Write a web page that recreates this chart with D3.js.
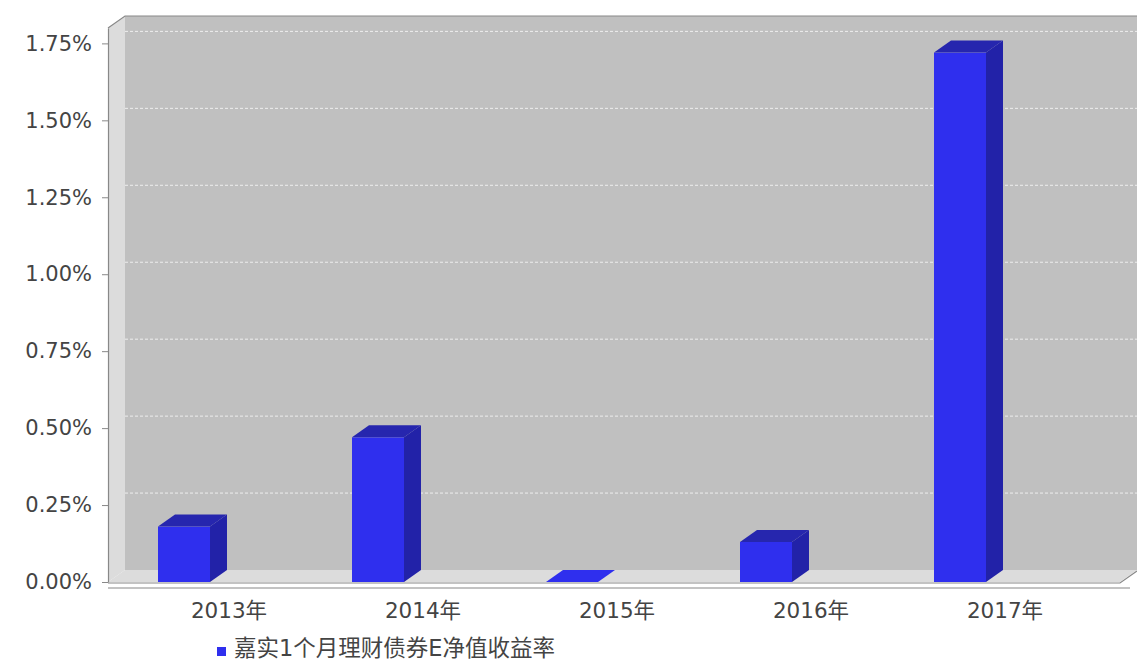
<!DOCTYPE html>
<html>
<head>
<meta charset="utf-8">
<script src="https://cdn.jsdelivr.net/npm/d3@7"></script>
<style>
  html, body { margin: 0; padding: 0; background: #fff; }
  text { font-family: "DejaVu Sans", "Noto Sans CJK SC", sans-serif; }
</style>
</head>
<body>
<div id="chart"></div>
<script>
// 图表数据
const categories = ["2013年", "2014年", "2015年", "2016年", "2017年"];
const returns = [0.18, 0.47, 0.00, 0.13, 1.72];
const yTicks = [0, 0.25, 0.5, 0.75, 1.0, 1.25, 1.5, 1.75];
const seriesName = "嘉实1个月理财债券E净值收益率";

const width = 1137, height = 662;
const dx = 17, dy = 12;   // 3D 深度偏移

const svg = d3.select("#chart").append("svg")
    .attr("width", width)
    .attr("height", height);

const y = d3.scaleLinear().domain([0, 1.8]).range([582, 28]);
const x = d3.scaleBand().domain(categories).range([132, 1102]);
const left = 108, right = 1120;
const y0 = y(0);

// 背景墙
svg.append("rect")
    .attr("x", left + dx).attr("y", y.range()[1] - dy)
    .attr("width", width - left - dx).attr("height", y0 - y.range()[1])
    .attr("fill", "#c0c0c0");

// 左侧墙
svg.append("polygon")
    .attr("points", [[left, y.range()[1]], [left + dx, y.range()[1] - dy], [left + dx, y0 - dy], [left, y0]].join(" "))
    .attr("fill", "#dcdcdc");

// 网格线
svg.selectAll(".grid")
    .data(yTicks.filter(d => d > 0))
    .enter().append("line")
    .attr("x1", left + dx).attr("x2", width)
    .attr("y1", d => y(d) - dy).attr("y2", d => y(d) - dy)
    .attr("stroke", "#eeeeee")
    .attr("stroke-width", 1)
    .attr("stroke-dasharray", "3,2");

// 地板
svg.append("polygon")
    .attr("points", [[left, y0], [left + dx, y0 - dy], [right + dx, y0 - dy], [right, y0]].join(" "))
    .attr("fill", "#dcdcdc");

// 外框
svg.append("path")
    .attr("d", `M${left},${y.range()[1]}L${left + dx},${y.range()[1] - dy}L${width},${y.range()[1] - dy}`)
    .attr("fill", "none").attr("stroke", "#888").attr("stroke-width", 1.2);
svg.append("path")
    .attr("d", `M${left},${y0 + 1}L${right},${y0 + 1}L${right + dx},${y0 - dy + 1}`)
    .attr("fill", "none").attr("stroke", "#888").attr("stroke-width", 1.2);

// 柱子
const barW = 52, barOff = 26;
const bars = svg.selectAll(".bar")
    .data(categories.map((c, i) => ({ c, v: returns[i] })))
    .enter().append("g");

bars.append("rect")
    .attr("x", d => x(d.c) + barOff)
    .attr("y", d => y(d.v))
    .attr("width", barW)
    .attr("height", d => y0 - y(d.v))
    .attr("fill", "#2f2fee");

bars.append("polygon")
    .attr("points", d => {
        const bx = x(d.c) + barOff, yt = y(d.v);
        return [[bx + barW, yt], [bx + barW + dx, yt - dy], [bx + barW + dx, y0 - dy], [bx + barW, y0]].join(" ");
    })
    .attr("fill", "#2222a8");

bars.append("polygon")
    .attr("points", d => {
        const bx = x(d.c) + barOff, yt = y(d.v);
        return [[bx, yt], [bx + dx, yt - dy], [bx + barW + dx, yt - dy], [bx + barW, yt]].join(" ");
    })
    .attr("fill", d => d.v === 0 ? "#2f2fee" : "#2626ae");

// Y 轴
const yAxis = svg.append("g")
    .attr("transform", `translate(${left},0)`)
    .call(d3.axisLeft(y).tickValues(yTicks)
        .tickFormat(d => d.toFixed(2) + "%")
        .tickSizeInner(6).tickSizeOuter(0).tickPadding(10));
yAxis.select(".domain").attr("stroke", "#888").attr("stroke-width", 1.2);
yAxis.selectAll(".tick line").attr("stroke", "#888");
yAxis.selectAll(".tick text")
    .attr("fill", "#444")
    .style("font-size", "21px");

// X 轴
svg.append("line")
    .attr("x1", left).attr("x2", right + 10)
    .attr("y1", 588).attr("y2", 588)
    .attr("stroke", "#888").attr("stroke-width", 1.2);

svg.selectAll(".xlabel")
    .data(categories)
    .enter().append("text")
    .attr("x", d => x(d) + x.bandwidth() / 2)
    .attr("y", 618)
    .attr("text-anchor", "middle")
    .attr("fill", "#444")
    .style("font-size", "21.5px")
    .text(d => d);

// 图例
svg.append("rect")
    .attr("x", 217).attr("y", 647)
    .attr("width", 9).attr("height", 9)
    .attr("fill", "#2f2fee");
svg.append("text")
    .attr("x", 234).attr("y", 656)
    .attr("fill", "#444")
    .style("font-size", "22.5px")
    .text(seriesName);
</script>
</body>
</html>
